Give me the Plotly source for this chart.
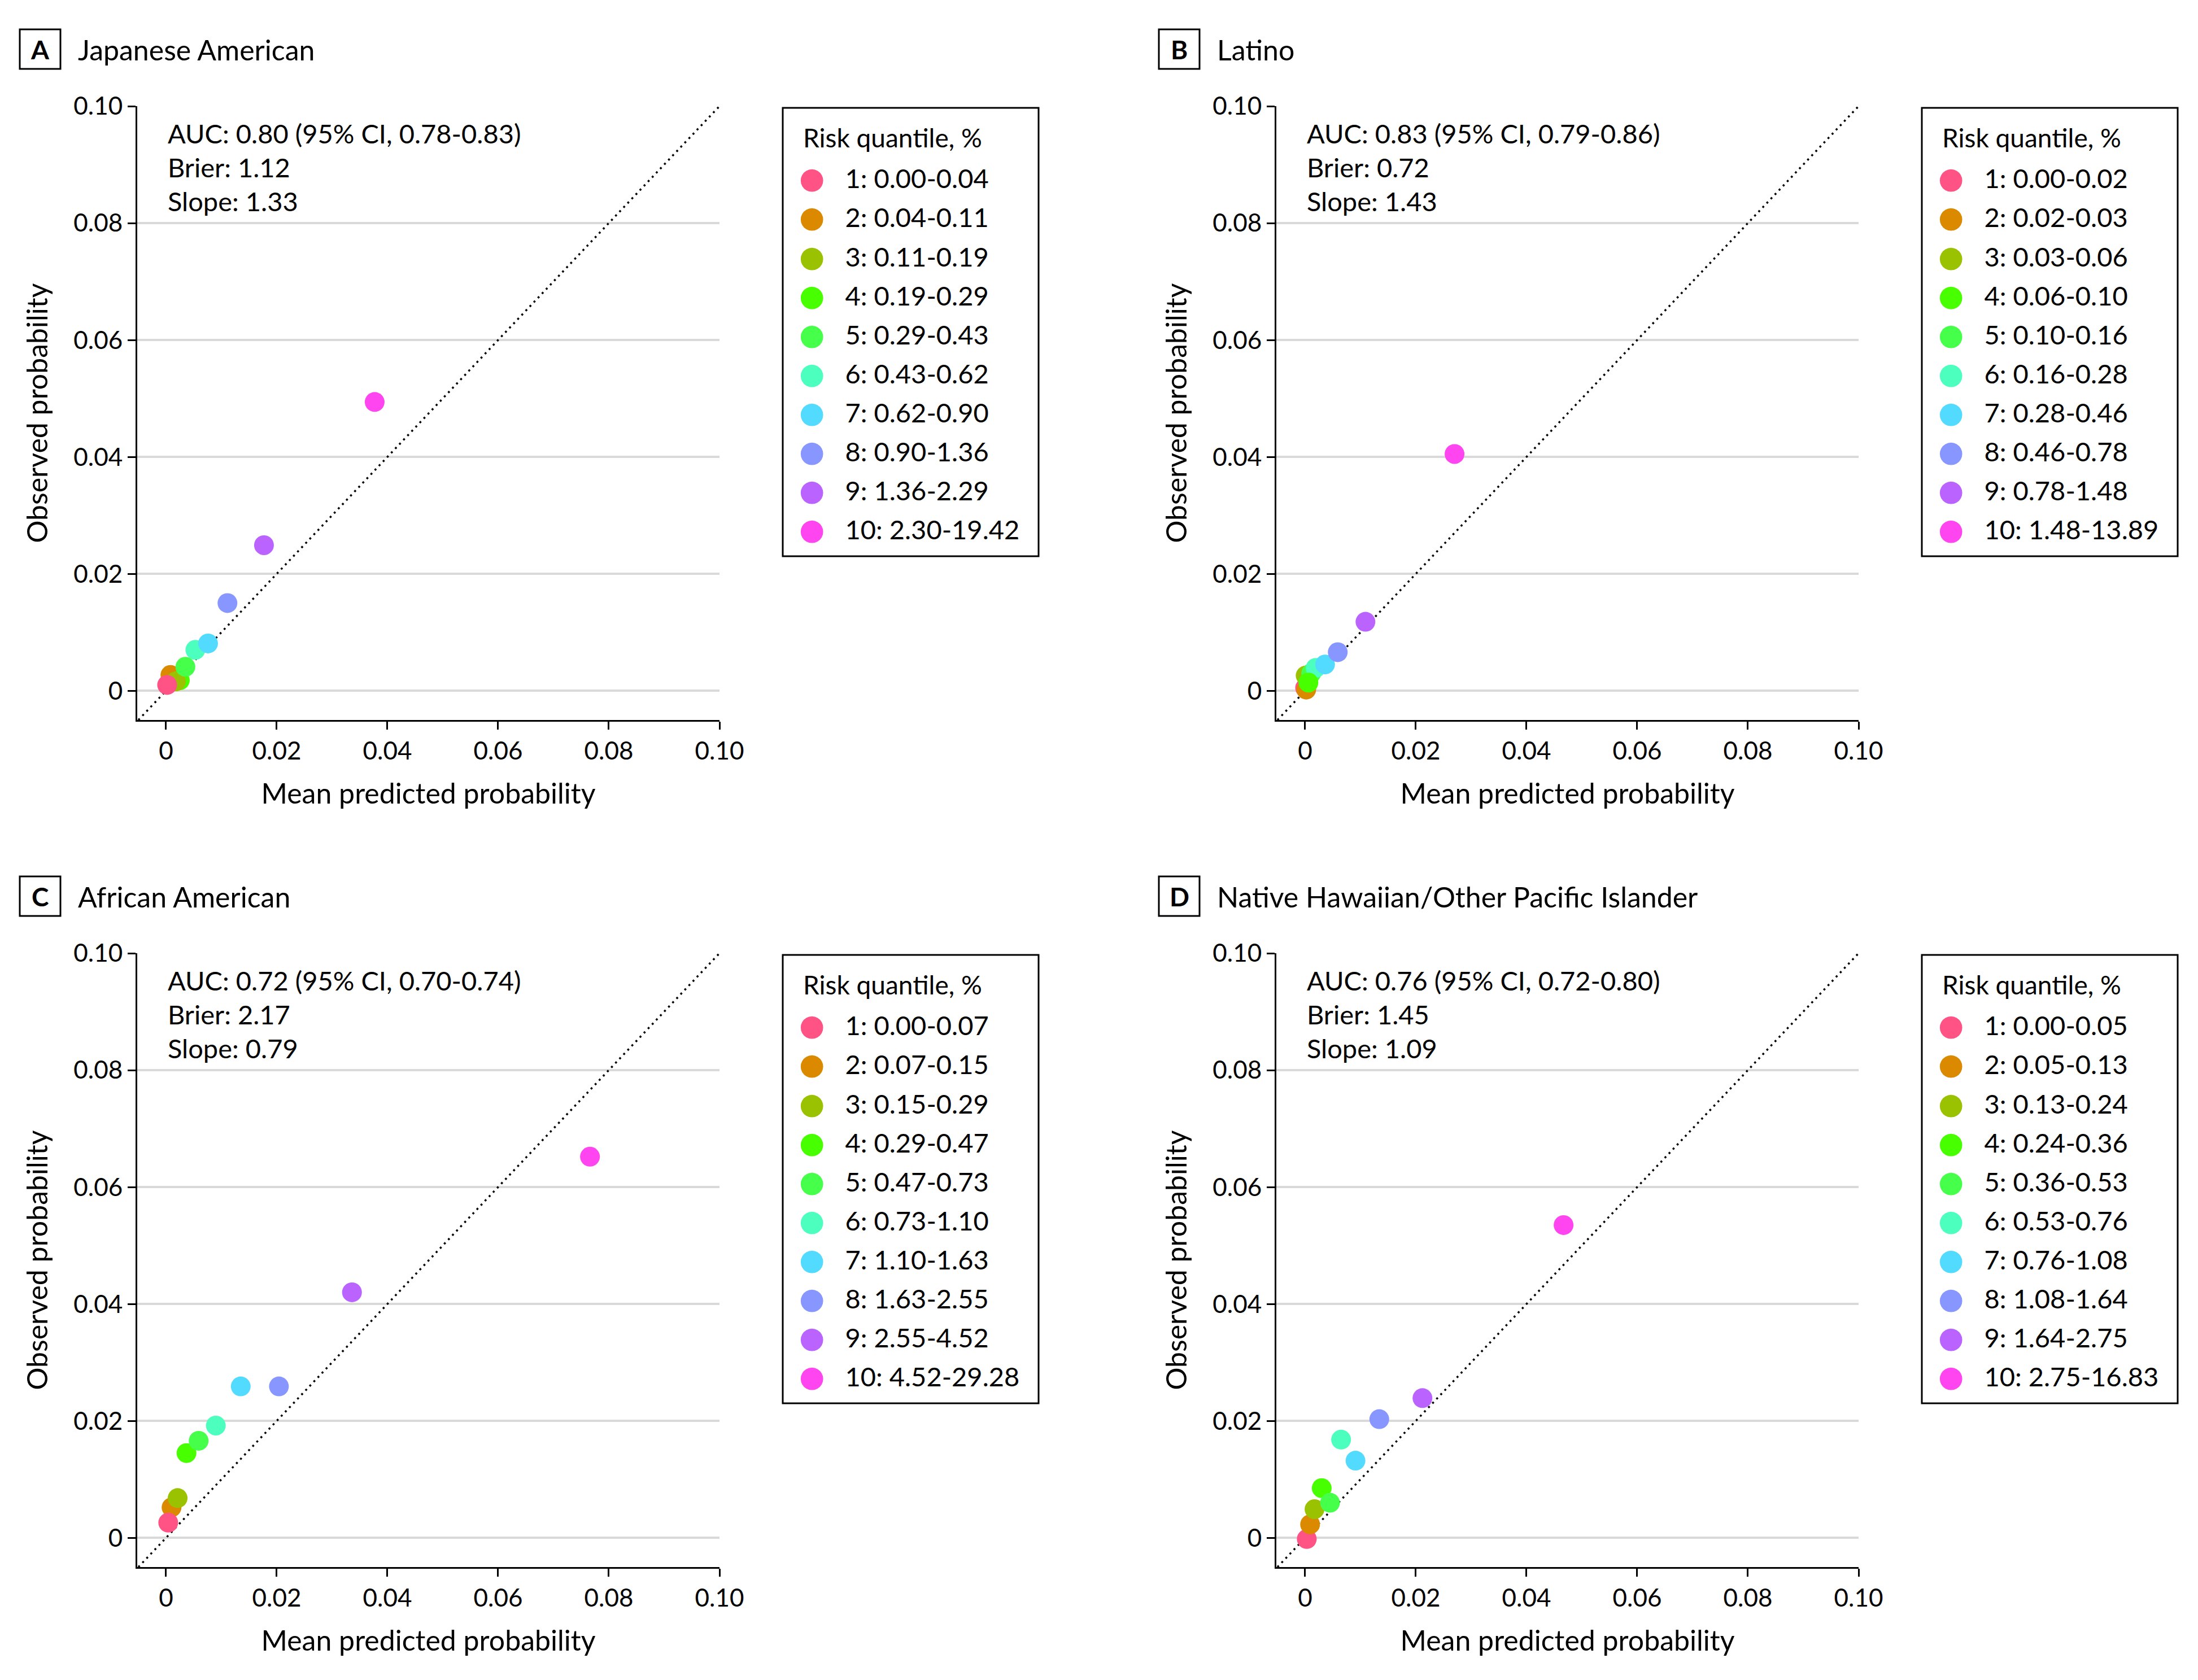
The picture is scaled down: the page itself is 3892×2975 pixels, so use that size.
import plotly.graph_objects as go

# ---------------- data ----------------
panel_letters = ["A", "B", "C", "D"]
panel_titles = ["Japanese American", "Latino", "African American",
                "Native Hawaiian/Other Pacific Islander"]

auc_text = ["0.80 (95% CI, 0.78-0.83)", "0.83 (95% CI, 0.79-0.86)",
            "0.72 (95% CI, 0.70-0.74)", "0.76 (95% CI, 0.72-0.80)"]
brier_text = ["1.12", "0.72", "2.17", "1.45"]
slope_text = ["1.33", "1.43", "0.79", "1.09"]

legend_title = "Risk quantile, %"
labels_A = ["1: 0.00-0.04", "2: 0.04-0.11", "3: 0.11-0.19", "4: 0.19-0.29", "5: 0.29-0.43",
            "6: 0.43-0.62", "7: 0.62-0.90", "8: 0.90-1.36", "9: 1.36-2.29", "10: 2.30-19.42"]
labels_B = ["1: 0.00-0.02", "2: 0.02-0.03", "3: 0.03-0.06", "4: 0.06-0.10", "5: 0.10-0.16",
            "6: 0.16-0.28", "7: 0.28-0.46", "8: 0.46-0.78", "9: 0.78-1.48", "10: 1.48-13.89"]
labels_C = ["1: 0.00-0.07", "2: 0.07-0.15", "3: 0.15-0.29", "4: 0.29-0.47", "5: 0.47-0.73",
            "6: 0.73-1.10", "7: 1.10-1.63", "8: 1.63-2.55", "9: 2.55-4.52", "10: 4.52-29.28"]
labels_D = ["1: 0.00-0.05", "2: 0.05-0.13", "3: 0.13-0.24", "4: 0.24-0.36", "5: 0.36-0.53",
            "6: 0.53-0.76", "7: 0.76-1.08", "8: 1.08-1.64", "9: 1.64-2.75", "10: 2.75-16.83"]

pred_A = [0.0002, 0.0008, 0.0018, 0.0025, 0.0035, 0.0053, 0.0076, 0.0111, 0.0177, 0.0377]
obs_A = [0.0010, 0.0027, 0.0016, 0.0018, 0.0041, 0.0070, 0.0081, 0.0150, 0.0249, 0.0494]

pred_B = [0.0000, 0.0002, 0.0001, 0.0006, 0.0011, 0.0019, 0.0036, 0.0059, 0.0109, 0.0270]
obs_B = [0.0005, 0.0002, 0.0026, 0.0014, 0.0030, 0.0039, 0.0045, 0.0066, 0.0118, 0.0405]

pred_C = [0.0004, 0.0010, 0.0021, 0.0037, 0.0059, 0.0090, 0.0135, 0.0204, 0.0336, 0.0766]
obs_C = [0.0026, 0.0052, 0.0068, 0.0145, 0.0166, 0.0192, 0.0259, 0.0259, 0.0420, 0.0652]

pred_D = [0.0003, 0.0009, 0.0017, 0.0030, 0.0045, 0.0065, 0.0091, 0.0134, 0.0212, 0.0467]
obs_D = [-0.0002, 0.0023, 0.0049, 0.0085, 0.0060, 0.0168, 0.0132, 0.0203, 0.0239, 0.0535]

diag = [-0.005, 0.10]
tick_vals = [0, 0.02, 0.04, 0.06, 0.08, 0.10]
tick_text = ["0", "0.02", "0.04", "0.06", "0.08", "0.10"]

# ---------------- style ----------------
colors = ["#FF5285", "#DB8A00", "#9BC200", "#48FF00", "#45FF4A",
          "#4DFFBF", "#53DAFF", "#8797FF", "#BA63FF", "#FF45F0"]
draw_order = [[1, 3, 2, 0, 4, 5, 6, 7, 8, 9],
              [0, 1, 2, 4, 5, 6, 7, 8, 9, 3],
              [1, 0, 2, 3, 4, 5, 6, 7, 8, 9],
              [0, 1, 2, 3, 4, 5, 6, 7, 8, 9]]

FONT = "Lato"
W, H = 3876, 2959   # page body has an 8px margin
OFF = 8


def fx(px):
    return (px - OFF) / W


def fy(py):
    return 1 - (py - OFF) / H


col_dx = [0, 2017]
row_dy = [0, 1500]
x_dom_px = (243, 1274)
y_dom_px = (188, 1275)

preds = [pred_A, pred_B, pred_C, pred_D]
obss = [obs_A, obs_B, obs_C, obs_D]
labels = [labels_A, labels_B, labels_C, labels_D]

fig = go.Figure()
layout = dict(
    width=W, height=H, autosize=False,
    margin=dict(l=0, r=0, t=0, b=0),
    paper_bgcolor="white", plot_bgcolor="white",
    font=dict(family=FONT, color="black", size=44),
    annotations=[], shapes=[],
)

for p in range(4):
    c, r = p % 2, p // 2
    dx, dy = col_dx[c], row_dy[r]
    ax = "" if p == 0 else str(p + 1)
    xa, ya = "x" + ax, "y" + ax
    leg = "legend" if p == 0 else "legend" + str(p + 1)

    layout["xaxis" + ax] = dict(
        domain=[fx(x_dom_px[0] + dx), fx(x_dom_px[1] + dx)],
        anchor=ya, range=[-0.0052, 0.10],
        tickvals=tick_vals, ticktext=tick_text,
        ticks="outside", ticklen=14, tickwidth=3, tickcolor="black",
        showline=True, linewidth=3, linecolor="black",
        showgrid=False, zeroline=False,
        tickfont=dict(size=44),
        title=dict(text="Mean predicted probability", font=dict(size=50), standoff=36),
        automargin=False,
    )
    layout["yaxis" + ax] = dict(
        domain=[fy(y_dom_px[1] + dy), fy(y_dom_px[0] + dy)],
        anchor=xa, range=[-0.005, 0.10],
        tickvals=tick_vals, ticktext=tick_text,
        ticks="outside", ticklen=14, tickwidth=3, tickcolor="black",
        showline=True, linewidth=3, linecolor="black",
        showgrid=True, gridcolor="#D9D9D9", gridwidth=4, zeroline=False,
        tickfont=dict(size=44),
        title=dict(text="Observed probability", font=dict(size=50), standoff=30),
        automargin=False,
    )

    # diagonal reference line
    fig.add_trace(go.Scatter(
        x=diag, y=diag, mode="lines", xaxis=xa, yaxis=ya,
        line=dict(color="black", width=3.5, dash="3.5px,7px"),
        showlegend=False, hoverinfo="skip"))

    # points
    for i in draw_order[p]:
        fig.add_trace(go.Scatter(
            x=[preds[p][i]], y=[obss[p][i]], mode="markers",
            xaxis=xa, yaxis=ya,
            marker=dict(color=colors[i], size=35, line=dict(width=0)),
            name=labels[p][i], showlegend=False))

    # legend entries (big dots rendered as glyphs)
    for i in range(10):
        fig.add_trace(go.Scatter(
            x=[None], y=[None], mode="markers", xaxis=xa, yaxis=ya,
            marker=dict(color="rgba(0,0,0,0)", size=1),
            name=('<span style="color:%s;font-family:DejaVu Sans;font-size:52px">\u25CF</span>'
                  '&nbsp;&nbsp;&nbsp;%s' % (colors[i], labels[p][i])),
            legend=leg, legendgroup="%s_%d" % (leg, i), legendrank=i + 1,
            showlegend=True, hoverinfo="skip"))

    layout[leg] = dict(
        x=fx(1375 + dx), y=fy(278 + dy), xanchor="left", yanchor="top",
        borderwidth=0, bgcolor="rgba(0,0,0,0)",
        font=dict(size=47, family=FONT, color="black"),
        tracegroupgap=5, itemwidth=30, traceorder="grouped",
    )
    # legend frame and title
    layout["shapes"].append(dict(
        type="rect", xref="paper", yref="paper", layer="below",
        x0=fx(1386 + dx), x1=fx(1839 + dx), y0=fy(985 + dy), y1=fy(191 + dy),
        line=dict(color="black", width=3), fillcolor="white"))
    layout["annotations"].append(dict(
        text=legend_title, xref="paper", yref="paper",
        x=fx(1420 + dx), y=fy(243 + dy), xanchor="left", yanchor="middle",
        showarrow=False, font=dict(size=46)))

    # stats text
    stat_lines = ["AUC: " + auc_text[p], "Brier: " + brier_text[p], "Slope: " + slope_text[p]]
    for k, t in enumerate(stat_lines):
        layout["annotations"].append(dict(
            text=t, xref="paper", yref="paper",
            x=fx(295 + dx), y=fy(236 + 60 * k + dy), xanchor="left", yanchor="middle",
            showarrow=False, font=dict(size=47)))

    # panel label box + title
    layout["shapes"].append(dict(
        type="rect", xref="paper", yref="paper",
        x0=fx(35 + dx), x1=fx(107 + dx), y0=fy(122 + dy), y1=fy(52 + dy),
        line=dict(color="black", width=3), fillcolor="white"))
    layout["annotations"].append(dict(
        text="<b>%s</b>" % panel_letters[p], xref="paper", yref="paper",
        x=fx(71 + dx), y=fy(88 + dy), xanchor="center", yanchor="middle",
        showarrow=False, font=dict(size=46)))
    layout["annotations"].append(dict(
        text=panel_titles[p], xref="paper", yref="paper",
        x=fx(136 + dx), y=fy(88 + dy), xanchor="left", yanchor="middle",
        showarrow=False, font=dict(size=50)))

fig.update_layout(**layout)
fig.write_html("out.html")
